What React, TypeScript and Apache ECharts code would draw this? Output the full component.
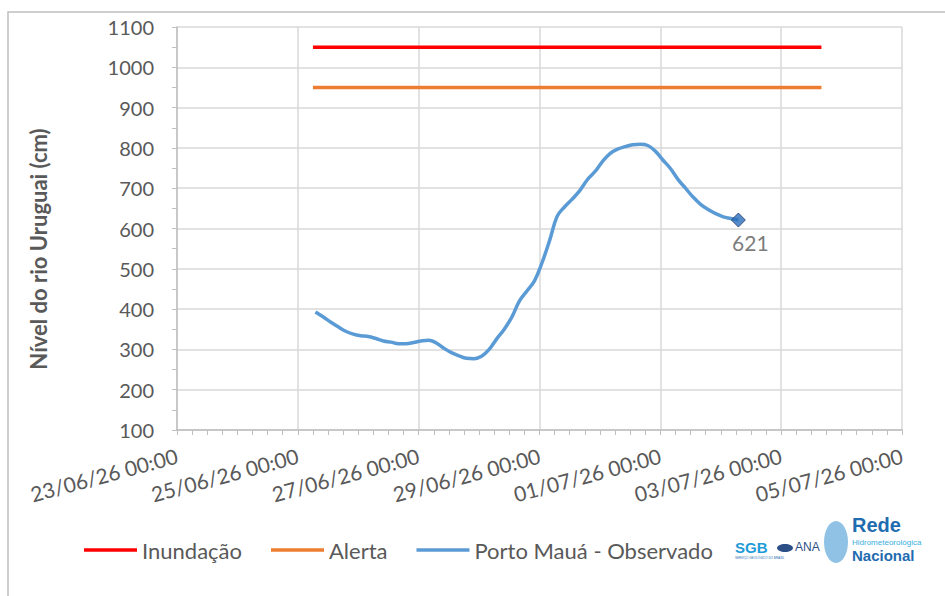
import React, { useEffect, useRef } from "react";
import * as echarts from "echarts";

// Axis origin: 23/06/26 00:00 (UTC), x values are hours from origin
const axisStartUTC = Date.UTC(2026, 5, 23, 0, 0);
const axisMinHours = 0;
const axisMaxHours = 288;
const axisIntervalHours = 48;

const yMin = 100;
const yMax = 1100;
const yInterval = 100;
const yTitle = "Nível do rio Uruguai (cm)";

const seriesNames = ["Inundação", "Alerta", "Porto Mauá - Observado"];
const seriesColors = ["#ff0000", "#ed7d31", "#5b9bd5"];

// Threshold lines (start/end in hours from origin)
const thresholdStartHours = 54; // 25/06 06:00
const thresholdEndHours = 256; // 03/07 16:00
const inundacaoLevel = 1050;
const alertaLevel = 950;

// Observed readings: every 3 hours from 25/06 07:00
const observedStartHours = 55;
const observedStepHours = 3;
const observedValues = [
  393, 381, 368, 356, 345, 338, 334, 332, 327, 321, 318, 314, 314, 317, 321, 323,
  316, 303, 292, 284, 278, 277, 283, 300, 326, 350, 380, 420, 445, 470, 515, 570,
  630, 654, 673, 694, 721, 741, 766, 786, 797, 803, 808, 809, 806, 792, 770, 749,
  722, 700, 678, 660, 647, 637, 629, 625, 621,
];

const textColor = "#595959";
const fontFamily = "Lato, 'Open Sans', sans-serif";

function pad(n: number) {
  return n < 10 ? "0" + n : "" + n;
}
function fmtHours(h: number) {
  const d = new Date(axisStartUTC + h * 3600000);
  return (
    pad(d.getUTCDate()) +
    "/" +
    pad(d.getUTCMonth() + 1) +
    "/" +
    pad(d.getUTCFullYear() % 100) +
    " " +
    pad(d.getUTCHours()) +
    ":" +
    pad(d.getUTCMinutes())
  );
}

export default function App() {
  const ref = useRef<HTMLDivElement>(null);
  useEffect(() => {
    if (!ref.current) return;
    const chart = echarts.init(ref.current, null, { renderer: "svg" });
    const observed = observedValues.map((v, i) => [
      observedStartHours + i * observedStepHours,
      v,
    ]);
    const last = observed[observed.length - 1];
    chart.setOption({
      animation: false,
      backgroundColor: "#ffffff",
      grid: { left: 177, right: 43, top: 27, bottom: 166, containLabel: false },
      xAxis: {
        type: "value",
        min: axisMinHours,
        max: axisMaxHours,
        interval: axisIntervalHours,
        axisLine: { show: true, lineStyle: { color: "#bfbfbf", width: 1.5 } },
        axisTick: { show: true, length: 5, lineStyle: { color: "#bfbfbf" } },
        minorTick: { show: true, splitNumber: 8, length: 5, lineStyle: { color: "#bfbfbf" } },
        splitLine: { show: true, lineStyle: { color: "#d9d9d9", width: 1.5 } },
        axisLabel: {
          formatter: (v: number) => fmtHours(v),
          rotate: 15,
          color: textColor,
          fontSize: 21,
          fontFamily,
          margin: 25,
          showMinLabel: true,
          showMaxLabel: true,
        },
      },
      yAxis: {
        type: "value",
        min: yMin,
        max: yMax,
        interval: yInterval,
        axisLine: { show: true, lineStyle: { color: "#bfbfbf", width: 1.5 } },
        axisTick: { show: true, length: 5, lineStyle: { color: "#bfbfbf" } },
        minorTick: { show: true, splitNumber: 2, length: 5, lineStyle: { color: "#bfbfbf" } },
        splitLine: { show: true, lineStyle: { color: "#d9d9d9", width: 1.5 } },
        axisLabel: {
          formatter: (v: number) => String(v),
          color: textColor,
          fontSize: 20,
          fontFamily,
          margin: 23,
        },
      },
      legend: {
        left: 84,
        top: 539,
        padding: 0,
        icon: "rect",
        itemWidth: 53,
        itemHeight: 3.5,
        itemGap: 29,
        textStyle: { color: textColor, fontSize: 22, fontFamily },
        data: seriesNames,
      },
      series: [
        {
          name: seriesNames[0],
          type: "line",
          data: [
            [thresholdStartHours, inundacaoLevel],
            [thresholdEndHours, inundacaoLevel],
          ],
          showSymbol: false,
          lineStyle: { color: seriesColors[0], width: 3.5 },
          itemStyle: { color: seriesColors[0] },
        },
        {
          name: seriesNames[1],
          type: "line",
          data: [
            [thresholdStartHours, alertaLevel],
            [thresholdEndHours, alertaLevel],
          ],
          showSymbol: false,
          lineStyle: { color: seriesColors[1], width: 3.5 },
          itemStyle: { color: seriesColors[1] },
        },
        {
          name: seriesNames[2],
          type: "line",
          data: observed,
          smooth: 0.4,
          showSymbol: false,
          lineStyle: { color: seriesColors[2], width: 3.5 },
          itemStyle: { color: seriesColors[2] },
        },
        {
          name: "last",
          type: "scatter",
          data: [last],
          symbol: "diamond",
          symbolSize: 14,
          itemStyle: { color: "#2a6ebb", borderColor: "#1f3864", borderWidth: 1 },
          label: {
            show: true,
            position: "bottom",
            distance: 4,
            offset: [12, 0],
            formatter: (p: any) => String(p.value[1]),
            color: textColor,
            fontSize: 21,
            fontFamily,
          },
          z: 5,
        },
      ],
      graphic: [
        {
          type: "polyline",
          shape: { points: [[8, 600], [8, 12], [945, 12]] },
          style: { stroke: "#bfbfbf", fill: "none", lineWidth: 1.5 },
          silent: true,
        },
        {
          type: "text",
          x: 38,
          y: 249,
          rotation: Math.PI / 2,
          style: {
            text: yTitle,
            fill: textColor,
            font: "bold 22px Lato, 'Open Sans', sans-serif",
            textAlign: "center",
            textVerticalAlign: "middle",
          },
        },
        {
          type: "text",
          left: 735,
          top: 540,
          style: { text: "SGB", fill: "#1e9bd7", font: "bold 15px sans-serif" },
        },
        {
          type: "text",
          left: 735,
          top: 556,
          style: { text: "SERVIÇO GEOLÓGICO DO BRASIL", fill: "#1e6fb0", font: "3px sans-serif" },
        },
        {
          type: "ellipse",
          shape: { cx: 785, cy: 548, rx: 8, ry: 4 },
          style: { fill: "#2b4f86" },
        },
        {
          type: "text",
          left: 795,
          top: 541,
          style: { text: "ANA", fill: "#2b4f86", font: "12px sans-serif" },
        },
        {
          type: "ellipse",
          shape: { cx: 836, cy: 542, rx: 12, ry: 21 },
          style: { fill: "#5fa8da", opacity: 0.7 },
        },
        {
          type: "text",
          left: 852,
          top: 515,
          style: { text: "Rede", fill: "#1f6cb0", font: "bold 20px 'Liberation Sans Narrow', sans-serif" },
        },
        {
          type: "text",
          left: 852,
          top: 538,
          style: { text: "Hidrometeorológica", fill: "#3aaee0", font: "8px sans-serif" },
        },
        {
          type: "text",
          left: 852,
          top: 548,
          style: { text: "Nacional", fill: "#1f6cb0", font: "bold 15px 'Liberation Sans Narrow', sans-serif" },
        },
      ],
    });
    return () => chart.dispose();
  }, []);
  return (
    <div
      ref={ref}
      style={{ position: "absolute", left: 0, top: 0, width: 945, height: 596 }}
    />
  );
}
